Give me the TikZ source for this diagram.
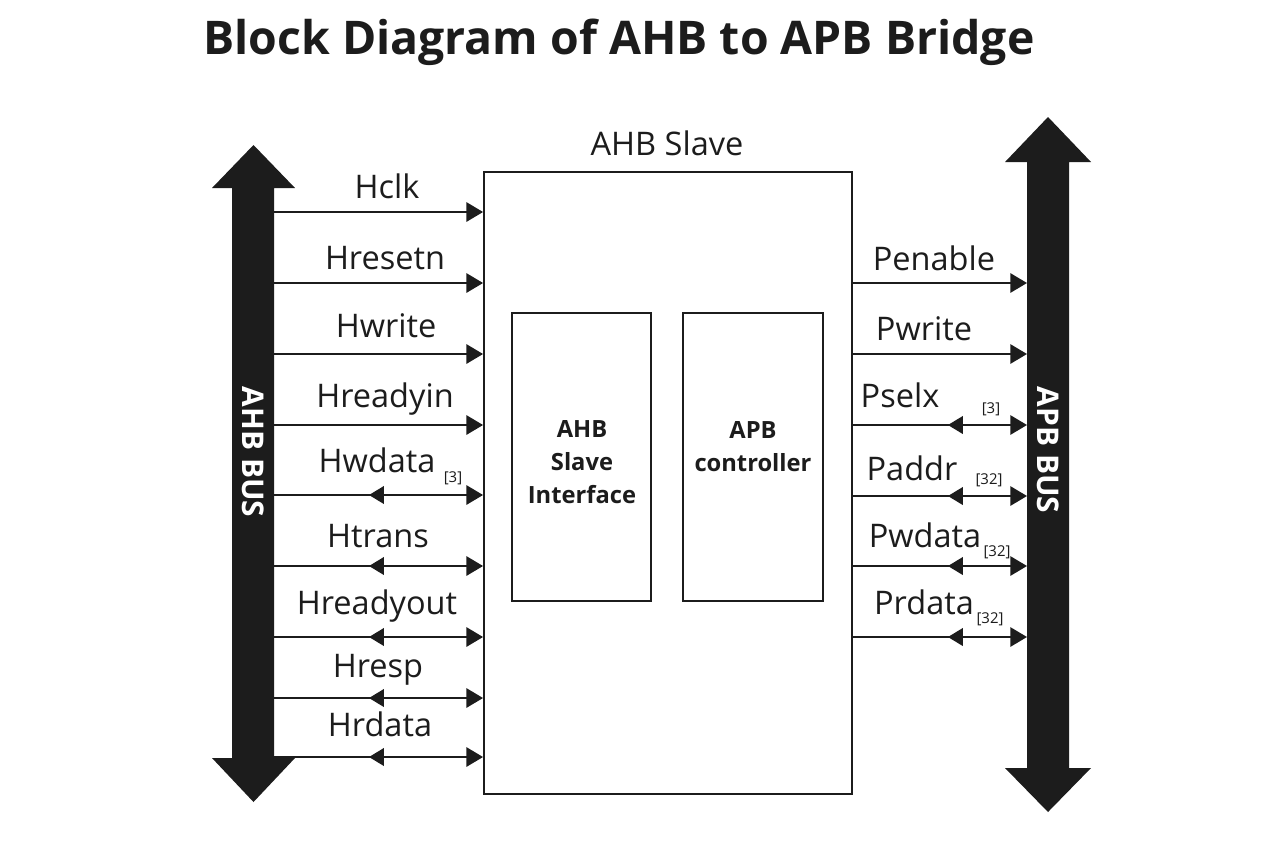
\documentclass[tikz,border=0pt]{standalone}
\usepackage{fontspec}
\setmainfont{Open Sans}
\usepackage{tikz}
\usetikzlibrary{arrows.meta,calc,decorations.markings}

\definecolor{ink}{HTML}{1C1C1C}
\tikzset{
    sig/.style={line width=1.1pt, draw=ink, -{Triangle[length=9.5pt,width=11pt]}},
    bidir/.style={sig, postaction={decorate},
        decoration={markings, mark=at position 1.9cm with {\arrowreversed{Triangle[length=8.5pt,width=10pt]}}}},
    lbl/.style={anchor=base, inner sep=0pt, text=ink, font=\fontsize{18.5}{20}\selectfont},
    width/.style={inner sep=0pt, text=ink, font=\fontsize{8.5}{9}\selectfont},
    box/.style={draw=ink, line width=1.1pt, inner sep=0pt},
    inner/.style={text=ink, align=center, font=\fontsize{13.5}{18.7}\selectfont\bfseries},
    buslbl/.style={text=white, rotate=-90, font=\fontsize{17}{18}\selectfont\bfseries}
}

\begin{document}
\begin{tikzpicture}[x=0.02cm, y=-0.02cm]
        \useasboundingbox [fill=white] (0,0) rectangle (1280,853);
        \node [anchor=base, text=ink, font=\fontsize{26.4}{30}\selectfont\bfseries] (title) at (619,54) {Block Diagram of AHB to APB Bridge};

        % bus arrows
        \fill [ink] (253.5,145) -- (295,188) -- (274,188) -- (274,758) -- (295,758)
            -- (253.5,802) -- (212,758) -- (232,758) -- (232,188) -- (212,188) -- cycle;
        \node [buslbl] (ahbbus) at (253.5,452) {AHB BUS};
        \fill [ink] (1048,117) -- (1091,162) -- (1069,162) -- (1069,768) -- (1091,768)
            -- (1048,812) -- (1005,768) -- (1027,768) -- (1027,162) -- (1005,162) -- cycle;
        \node [buslbl] (apbbus) at (1048,450) {APB BUS};

        % bridge block
        \node [box, minimum width=7.36cm, minimum height=12.44cm] (slave) at (668,483) {};
        \node [lbl] (slavelbl) at (667,155) {AHB Slave};
        \node [box, minimum width=2.78cm, minimum height=5.76cm] (ahbif) at (581.5,457) {};
        \node [box, minimum width=2.8cm, minimum height=5.76cm] (apbctl) at (753,457) {};
        \node [inner] (ahbiflbl) at (582,462) {AHB\\Slave\\Interface};
        \node [inner] (apbctllbl) at (753,447) {APB\\controller};

        % AHB side
        \coordinate (hclk) at (274,212);
        \coordinate (hresetn) at (274,283);
        \coordinate (hwrite) at (274,354);
        \coordinate (hreadyin) at (274,425);
        \coordinate (hwdata) at (274,495);
        \coordinate (htrans) at (274,566);
        \coordinate (hreadyout) at (274,637);
        \coordinate (hresp) at (274,698);
        \coordinate (hrdata) at (274,757);
        \draw [sig] (hclk) -- (hclk -| slave.west);
        \draw [sig] (hresetn) -- (hresetn -| slave.west);
        \draw [sig] (hwrite) -- (hwrite -| slave.west);
        \draw [sig] (hreadyin) -- (hreadyin -| slave.west);
        \draw [bidir] (hwdata) -- (hwdata -| slave.west);
        \draw [bidir] (htrans) -- (htrans -| slave.west);
        \draw [bidir] (hreadyout) -- (hreadyout -| slave.west);
        \draw [bidir] (hresp) -- (hresp -| slave.west);
        \draw [bidir] (hrdata) -- (hrdata -| slave.west);
        \node [lbl] (hclklbl) at (387,198) {Hclk};
        \node [lbl] (hresetnlbl) at (385,269) {Hresetn};
        \node [lbl] (hwritelbl) at (386,337) {Hwrite};
        \node [lbl] (hreadyinlbl) at (385,407) {Hreadyin};
        \node [lbl] (hwdatalbl) at (377,472) {Hwdata};
        \node [width] (hwdataw) at (453,478) {[3]};
        \node [lbl] (htranslbl) at (378,547) {Htrans};
        \node [lbl] (hreadyoutlbl) at (377,614) {Hreadyout};
        \node [lbl] (hresplbl) at (378,677) {Hresp};
        \node [lbl] (hrdatalbl) at (380,736) {Hrdata};

        % APB side
        \coordinate (penable) at (1027,283);
        \coordinate (pwrite) at (1027,354);
        \coordinate (pselx) at (1027,425);
        \coordinate (paddr) at (1027,496);
        \coordinate (pwdata) at (1027,566);
        \coordinate (prdata) at (1027,637);
        \draw [sig] (slave.east |- penable) -- (penable);
        \draw [sig] (slave.east |- pwrite) -- (pwrite);
        \draw [bidir] (slave.east |- pselx) -- (pselx);
        \draw [bidir] (slave.east |- paddr) -- (paddr);
        \draw [bidir] (slave.east |- pwdata) -- (pwdata);
        \draw [bidir] (slave.east |- prdata) -- (prdata);
        \node [lbl] (penablelbl) at (934,270) {Penable};
        \node [lbl] (pwritelbl) at (924,340) {Pwrite};
        \node [lbl] (pselxlbl) at (900,407) {Pselx};
        \node [width] (pselxw) at (991,409) {[3]};
        \node [lbl] (paddrlbl) at (912,480) {Paddr};
        \node [width] (paddrw) at (989,480) {[32]};
        \node [lbl] (pwdatalbl) at (925,547) {Pwdata};
        \node [width] (pwdataw) at (997,552) {[32]};
        \node [lbl] (prdatalbl) at (924,614) {Prdata};
        \node [width] (prdataw) at (990,619) {[32]};
    \end{tikzpicture}
\end{document}
